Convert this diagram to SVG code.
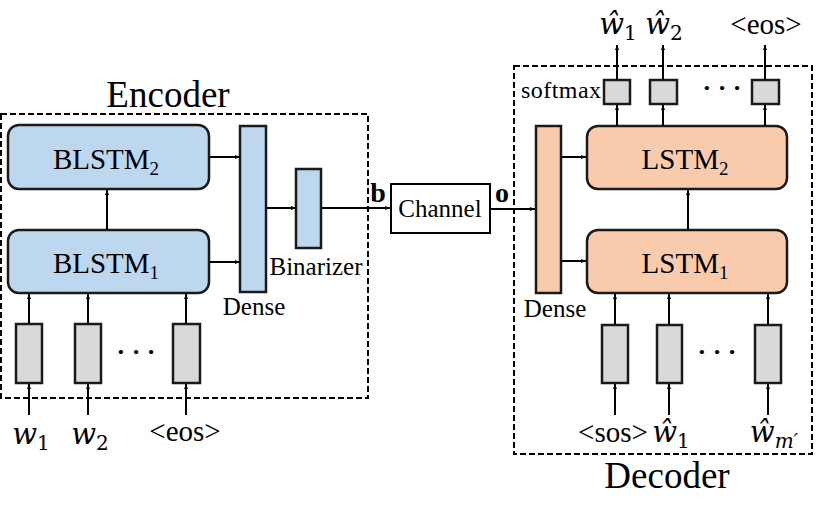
<svg xmlns="http://www.w3.org/2000/svg" width="830" height="522" viewBox="0 0 830 522">
<defs>
<marker id="ah" viewBox="0 0 10 10" refX="10" refY="5" markerWidth="5" markerHeight="5" orient="auto" markerUnits="userSpaceOnUse">
<path d="M0,1 L10,5 L0,9 z" fill="#000"/>
</marker>
<style>
.t{font-family:"Liberation Serif","Times New Roman",serif;fill:#000}
.m{font-family:"DejaVu Serif","Liberation Serif",serif;font-style:italic;fill:#000}
.s{font-family:"DejaVu Serif","Liberation Serif",serif;fill:#000}
.blue{fill:#BDD7EE;stroke:#1a1a1a;stroke-width:2.5}
.org{fill:#F8CBAD;stroke:#1a1a1a;stroke-width:2.5}
.gray{fill:#D9D9D9;stroke:#1a1a1a;stroke-width:2.5}
.box{fill:#fff;stroke:#000;stroke-width:2}
.dash{fill:none;stroke:#000;stroke-width:2;stroke-dasharray:6,3}
.c line{stroke:#000;stroke-width:2;marker-end:url(#ah)}
</style>
</defs>
<rect width="830" height="522" fill="#fff"/>

<g id="encoder">
<rect class="dash" x="1" y="114" width="367" height="284"/>
<text class="t" x="168" y="107" font-size="37" text-anchor="middle">Encoder</text>
</g>
<g id="decoder">
<rect class="dash" x="514" y="66" width="298" height="388"/>
<text class="t" x="667" y="488" font-size="37" text-anchor="middle">Decoder</text>
</g>

<g id="blstm2"><rect class="blue" x="8" y="125" width="201" height="64" rx="11"/><text class="t" x="106" y="169" font-size="29" text-anchor="middle">BLSTM<tspan font-size="19" dy="6">2</tspan></text></g>
<g id="blstm1"><rect class="blue" x="8" y="230" width="201" height="63" rx="11"/><text class="t" x="106" y="273" font-size="29" text-anchor="middle">BLSTM<tspan font-size="19" dy="6">1</tspan></text></g>
<g id="enc-dense"><rect class="blue" x="240" y="126" width="26" height="166"/><text class="t" x="254" y="315" font-size="25" text-anchor="middle">Dense</text></g>
<g id="binarizer"><rect class="blue" x="296" y="169" width="25" height="79"/><text class="t" x="316" y="275" font-size="25" text-anchor="middle">Binarizer</text></g>
<g id="enc-in1"><rect class="gray" x="16" y="324" width="26" height="59"/></g>
<g id="enc-in2"><rect class="gray" x="75" y="324" width="26" height="59"/></g>
<g id="enc-in3"><rect class="gray" x="173" y="324" width="27" height="59"/></g>
<g id="enc-dots"><text class="t" x="136" y="360" font-size="26" font-weight="bold" text-anchor="middle">· · ·</text></g>
<g id="enc-labels">
<text class="m" x="31" y="444" font-size="29" text-anchor="middle">w<tspan class="s" font-style="normal" font-size="20" dy="6">1</tspan></text>
<text class="m" x="90" y="444" font-size="29" text-anchor="middle">w<tspan class="s" font-style="normal" font-size="20" dy="6">2</tspan></text>
<text class="t" x="185" y="441" font-size="29" text-anchor="middle">&lt;eos&gt;</text>
</g>

<g id="channel"><rect class="box" x="391" y="184" width="99" height="49"/><text class="t" x="440" y="217" font-size="25" text-anchor="middle">Channel</text></g>
<g id="lbl-b"><text class="t" x="378" y="202" font-size="28" font-weight="bold" text-anchor="middle">b</text></g>
<g id="lbl-o"><text class="t" x="502" y="202" font-size="28" font-weight="bold" text-anchor="middle">o</text></g>

<g id="dec-dense"><rect class="org" x="536" y="126" width="25" height="167"/><text class="t" x="555" y="317" font-size="25" text-anchor="middle">Dense</text></g>
<g id="lstm2"><rect class="org" x="587" y="126" width="200" height="63" rx="11"/><text class="t" x="685" y="169" font-size="29" text-anchor="middle">LSTM<tspan font-size="19" dy="6">2</tspan></text></g>
<g id="lstm1"><rect class="org" x="587" y="230" width="200" height="63" rx="11"/><text class="t" x="685" y="273" font-size="29" text-anchor="middle">LSTM<tspan font-size="19" dy="6">1</tspan></text></g>
<g id="softmax">
<text class="t" x="521" y="98" font-size="24" textLength="80">softmax</text>
<rect class="gray" x="604" y="80" width="26" height="24"/>
<rect class="gray" x="650" y="80" width="27" height="24"/>
<rect class="gray" x="752" y="80" width="27" height="24"/>
<text class="t" x="722" y="96" font-size="26" font-weight="bold" text-anchor="middle">· · ·</text>
</g>
<g id="dec-out-labels">
<text class="m" x="618" y="34" font-size="29" text-anchor="middle">ŵ<tspan class="s" font-style="normal" font-size="20" dy="6">1</tspan></text>
<text class="m" x="664" y="34" font-size="29" text-anchor="middle">ŵ<tspan class="s" font-style="normal" font-size="20" dy="6">2</tspan></text>
<text class="t" x="766" y="34" font-size="29" text-anchor="middle">&lt;eos&gt;</text>
</g>
<g id="dec-in1"><rect class="gray" x="602" y="325" width="26" height="58"/></g>
<g id="dec-in2"><rect class="gray" x="657" y="325" width="25" height="58"/></g>
<g id="dec-in3"><rect class="gray" x="755" y="325" width="26" height="58"/></g>
<g id="dec-dots"><text class="t" x="717" y="360" font-size="26" font-weight="bold" text-anchor="middle">· · ·</text></g>
<g id="dec-in-labels">
<text class="t" x="613" y="442" font-size="29" text-anchor="middle">&lt;sos&gt;</text>
<text class="m" x="671" y="442" font-size="29" text-anchor="middle">ŵ<tspan class="s" font-style="normal" font-size="20" dy="6">1</tspan></text>
<text class="m" x="774" y="442" font-size="29" text-anchor="middle">ŵ<tspan font-size="20" dy="6">m′</tspan></text>
</g>

<g id="connectors" class="c">
<line x1="209" y1="157" x2="240" y2="157"/>
<line x1="209" y1="262" x2="240" y2="262"/>
<line x1="107" y1="230" x2="107" y2="190"/>
<line x1="266" y1="208" x2="296" y2="208"/>
<line x1="321" y1="208" x2="390" y2="208"/>
<line x1="29" y1="324" x2="29" y2="294"/>
<line x1="88" y1="324" x2="88" y2="294"/>
<line x1="186" y1="324" x2="186" y2="294"/>
<line x1="29" y1="415" x2="29" y2="384"/>
<line x1="88" y1="415" x2="88" y2="384"/>
<line x1="186" y1="415" x2="186" y2="384"/>
<line x1="490" y1="209" x2="535" y2="209"/>
<line x1="561" y1="157" x2="586" y2="157"/>
<line x1="561" y1="261" x2="586" y2="261"/>
<line x1="688" y1="230" x2="688" y2="190"/>
<line x1="617" y1="126" x2="617" y2="105"/>
<line x1="663" y1="126" x2="663" y2="105"/>
<line x1="765" y1="126" x2="765" y2="105"/>
<line x1="617" y1="80" x2="617" y2="45"/>
<line x1="663" y1="80" x2="663" y2="45"/>
<line x1="765" y1="80" x2="765" y2="45"/>
<line x1="615" y1="325" x2="615" y2="294"/>
<line x1="669" y1="325" x2="669" y2="294"/>
<line x1="768" y1="325" x2="768" y2="294"/>
<line x1="615" y1="415" x2="615" y2="384"/>
<line x1="669" y1="415" x2="669" y2="384"/>
<line x1="768" y1="415" x2="768" y2="384"/>
</g>
</svg>
